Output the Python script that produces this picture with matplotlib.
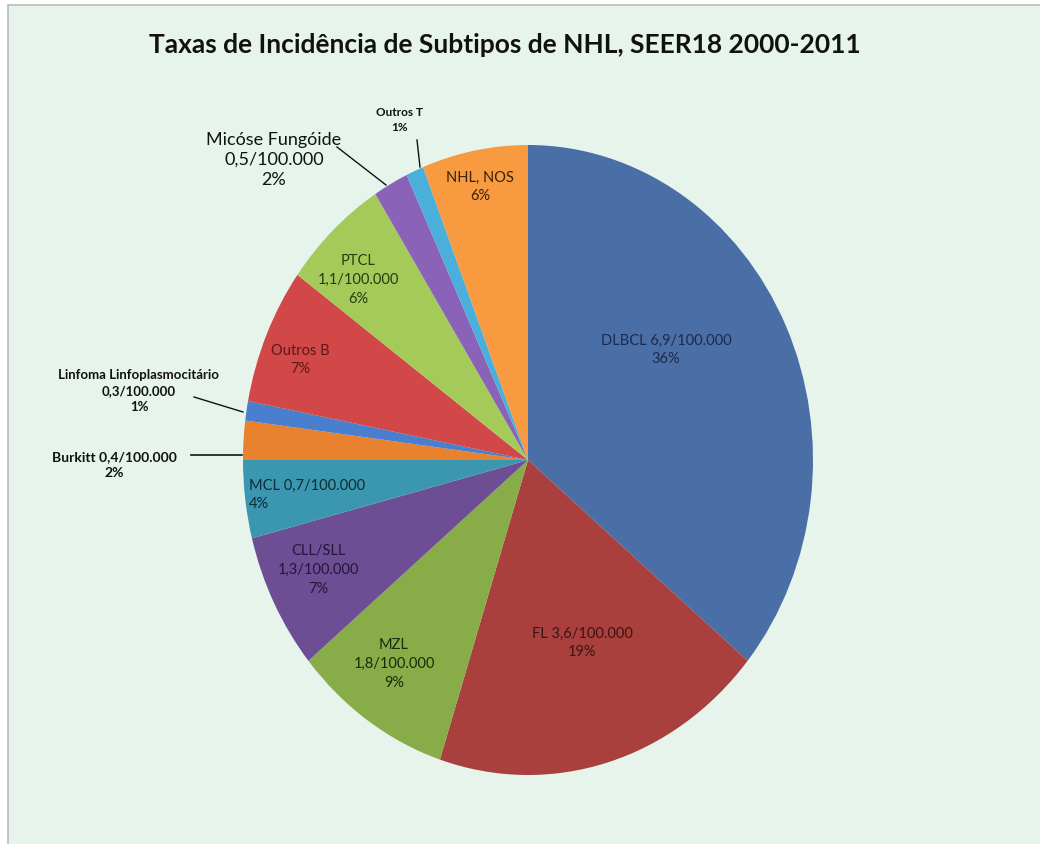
import matplotlib
matplotlib.use("Agg")
import matplotlib.pyplot as plt
from matplotlib.patches import Rectangle

plt.rcParams['font.family'] = ['Lato', 'DejaVu Sans']

# ---- data ----
subtypes = ["DLBCL", "FL", "MZL", "CLL/SLL", "MCL", "Burkitt",
            "Linfoma Linfoplasmocitário", "Outros B", "PTCL",
            "Micóse Fungóide", "Outros T", "NHL, NOS"]
percent = [36, 19, 9, 7, 4, 2, 1, 7, 6, 2, 1, 6]
rates = ["6,9/100.000", "3,6/100.000", "1,8/100.000", "1,3/100.000",
         "0,7/100.000", "0,4/100.000", "0,3/100.000", None, "1,1/100.000",
         "0,5/100.000", None, None]
colors = ["#4A6EA6", "#A9403D", "#88AC48", "#6D4E94", "#3B97B0", "#E8822F",
          "#4A7ECF", "#D24747", "#A4CA5A", "#8A62B8", "#4AAFDA", "#F89A40"]

title = "Taxas de Incidência de Subtipos de NHL, SEER18 2000-2011"

W, H = 1040, 844
fig = plt.figure(figsize=(W / 100, H / 100), dpi=100)
fig.patch.set_facecolor("white")

# background panel (pixel coordinates)
bg = fig.add_axes([0, 0, 1, 1])
bg.set_xlim(0, W)
bg.set_ylim(H, 0)
bg.axis("off")
bg.add_patch(Rectangle((8, 5), W, H, facecolor="#E6F4EC",
                       edgecolor="#BBBBBB", linewidth=1.2))

# pie (slightly vertically stretched ellipse)
cx, cy, rx, ry = 528, 460, 285, 315
pax = fig.add_axes([(cx - rx) / W, (H - (cy + ry)) / H, 2 * rx / W, 2 * ry / H])
pax.pie(percent, colors=colors, startangle=90, counterclock=False,
        radius=1, wedgeprops=dict(linewidth=0))
pax.set_aspect("auto")
pax.set_xlim(-1, 1)
pax.set_ylim(-1, 1)
pax.axis("off")

# overlay for text
ov = fig.add_axes([0, 0, 1, 1])
ov.set_xlim(0, W)
ov.set_ylim(H, 0)
ov.axis("off")
ov.patch.set_alpha(0)

ov.text(505, 45, title, ha="center", va="center", fontsize=19,
        fontweight="bold", color="#111111")

def lab(i, with_rate=True, sep="\n"):
    name = subtypes[i]
    if with_rate and rates[i]:
        return f"{name}{sep}{rates[i]}\n{percent[i]}%"
    return f"{name}\n{percent[i]}%"

inside = [
    (0, 666, 350, "#1C2A4E", " ", "center"),
    (1, 582, 643, "#3A1414", " ", "center"),
    (2, 394, 664, "#1A2A0A", "\n", "center"),
    (3, 318, 570, "#22163A", "\n", "center"),
    (7, 300, 360, "#5A1A1A", "\n", "center"),
    (8, 358, 280, "#2A3A10", "\n", "center"),
    (11, 480, 187, "#3A200A", "\n", "center"),
]
for i, x, y, c, sep, ha in inside:
    ov.text(x, y, lab(i, sep=sep), ha=ha, va="center", fontsize=10.5,
            color=c, linespacing=1.45, multialignment="center")

# MCL label (left aligned in its slice)
ov.text(249, 495, lab(4, sep=" "), ha="left", va="center", fontsize=10.5,
        color="#0E2A33", linespacing=1.45, multialignment="left")

# outside labels with leader lines
ov.text(400, 120, lab(10), ha="center", va="center", fontsize=8.5,
        fontweight="bold", color="#111111", linespacing=1.35)
ov.plot([417, 420], [140, 167], color="#111111", lw=1)

ov.text(274, 160, lab(9), ha="center", va="center", fontsize=13,
        color="#111111", linespacing=1.28)
ov.plot([337, 386], [147, 185], color="#111111", lw=1)

ov.text(139, 391, lab(6), ha="center", va="center", fontsize=9.5,
        fontweight="bold", color="#111111", linespacing=1.4)
ov.plot([194, 243], [397, 412], color="#111111", lw=1)

ov.text(114, 465, lab(5, sep=" "), ha="center", va="center", fontsize=10,
        fontweight="bold", color="#111111", linespacing=1.4)
ov.plot([191, 242], [455, 455], color="#111111", lw=1.2)

fig.savefig("out.png", dpi=100, facecolor="white")
